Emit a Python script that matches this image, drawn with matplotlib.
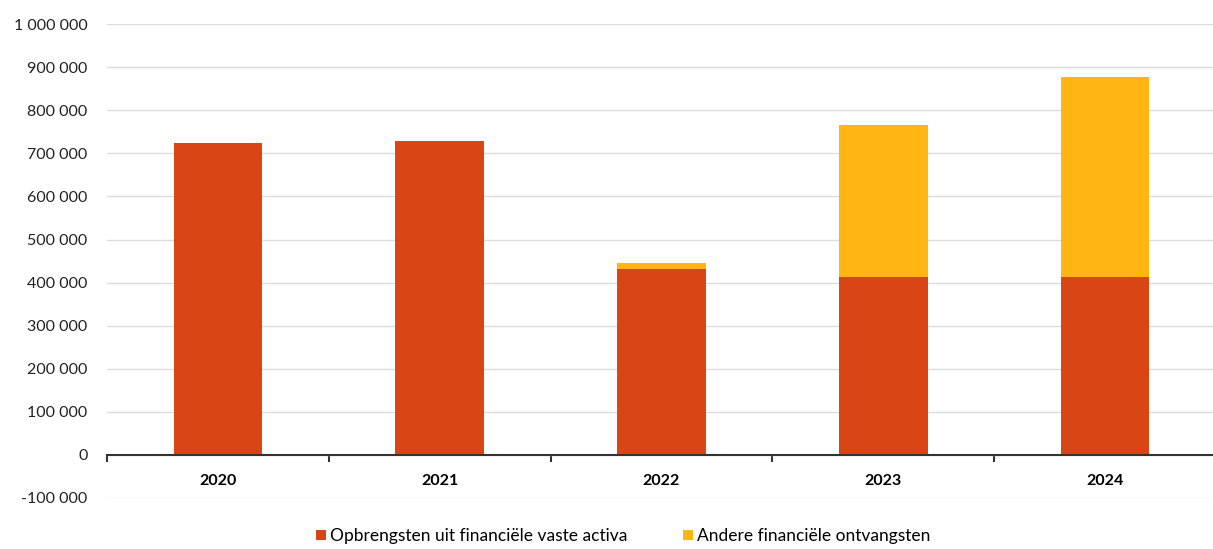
import numpy as np
import matplotlib.pyplot as plt
from matplotlib.ticker import FuncFormatter, FixedLocator

years = ['2020', '2021', '2022', '2023', '2024']
opbrengsten = [723000, 728000, 432000, 413000, 413000]
andere = [0, 0, 14000, 353000, 464000]

label_opbr = 'Opbrengsten uit financiële vaste activa'
label_andere = 'Andere financiële ontvangsten'

plt.rcParams['font.family'] = ['Lato', 'DejaVu Sans']

fig = plt.figure(figsize=(12.13, 5.49), dpi=100)
ax = fig.add_axes([0.0882, 0.093, 0.9143, 0.863])

x = np.arange(len(years))
ax.bar(x, opbrengsten, width=0.40, color='#DA4516', label=label_opbr, zorder=3)
ax.bar(x, andere, width=0.40, bottom=opbrengsten, color='#FFB612', label=label_andere, zorder=3)

ax.set_xlim(-0.5, len(years) - 0.5)
ax.set_ylim(-100000, 1000000)
ax.set_yticks(np.arange(-100000, 1000001, 100000))
ax.yaxis.set_major_formatter(FuncFormatter(lambda v, p: f'{int(v):,}'.replace(',', ' ')))
ax.tick_params(axis='y', length=0, labelsize=11.5, pad=14, labelcolor='#222222')
ax.grid(axis='y', color='#dcdcdc', linewidth=1, zorder=0)

for s in ['left', 'right', 'top']:
    ax.spines[s].set_visible(False)
ax.spines['bottom'].set_position(('data', 0))
ax.spines['bottom'].set_color('#333333')
ax.spines['bottom'].set_linewidth(1.5)
ax.spines['bottom'].set_zorder(4)

ax.set_xticks(x)
ax.set_xticklabels(years, fontweight='bold', fontsize=11.5)
ax.tick_params(axis='x', which='major', length=0, pad=14)
ax.xaxis.set_minor_locator(FixedLocator(np.arange(-0.5, len(years), 1.0)))
ax.tick_params(axis='x', which='minor', length=5, width=1.5, color='#333333')

fig.legend(loc='lower center', ncol=2, frameon=False, fontsize=12.5,
           bbox_to_anchor=(0.514, -0.02), handlelength=0.55, handleheight=0.55,
           handletextpad=0.25, columnspacing=3.2)

fig.savefig('out.png', dpi=100)
